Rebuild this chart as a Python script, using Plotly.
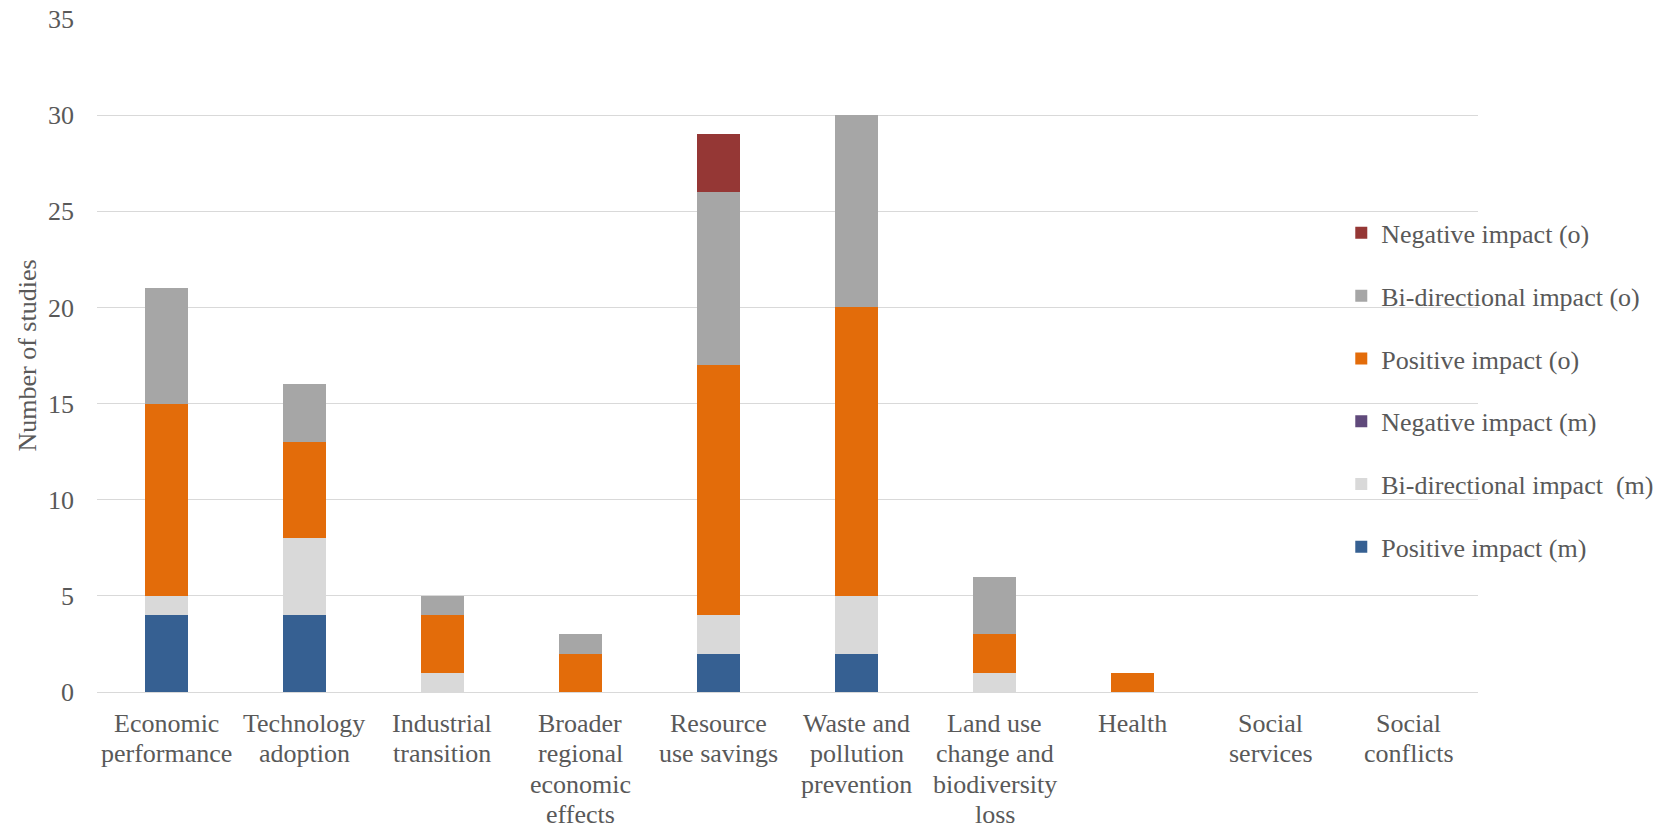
import plotly.graph_objects as go

# Impact categories (line breaks as they appear under the axis)
categories = [
    "Economic\nperformance",
    "Technology\nadoption",
    "Industrial\ntransition",
    "Broader\nregional\neconomic\neffects",
    "Resource\nuse savings",
    "Waste and\npollution\nprevention",
    "Land use\nchange and\nbiodiversity\nloss",
    "Health",
    "Social\nservices",
    "Social\nconflicts",
]

# Number of studies per impact type, (m) and (o)
positive_m = [4, 4, 0, 0, 2, 2, 0, 0, 0, 0]
bidirectional_m = [1, 4, 1, 0, 2, 3, 1, 0, 0, 0]
negative_m = [0, 0, 0, 0, 0, 0, 0, 0, 0, 0]
positive_o = [10, 5, 3, 2, 13, 15, 2, 1, 0, 0]
bidirectional_o = [6, 3, 1, 1, 9, 10, 3, 0, 0, 0]
negative_o = [0, 0, 0, 0, 3, 0, 0, 0, 0, 0]

y_ticks = [0, 5, 10, 15, 20, 25, 30, 35]

series = [
    ("Positive impact (m)", positive_m, "#366092"),
    ("Bi-directional impact  (m)", bidirectional_m, "#D9D9D9"),
    ("Negative impact (m)", negative_m, "#604A7B"),
    ("Positive impact (o)", positive_o, "#E36C0A"),
    ("Bi-directional impact (o)", bidirectional_o, "#A6A6A6"),
    ("Negative impact (o)", negative_o, "#953735"),
]

FONT = "Liberation Serif"
TEXT = "#595959"
W, H = 1669, 830
L, R, T, B = 97, 191, 19, 138

x_idx = list(range(len(categories)))

fig = go.Figure()
n = len(series)
for i, (name, vals, color) in enumerate(series):
    fig.add_trace(go.Bar(
        x=x_idx, y=vals, name=name,
        marker=dict(color=color, line=dict(width=0)),
        legendgroup=f"g{i}", legendrank=n - i,
    ))

# Category labels, one text line per annotation
line_step = 30.3
for xi, label in zip(x_idx, categories):
    for j, line in enumerate(label.split("\n")):
        fig.add_annotation(
            x=xi, xref="x", y=0, yref="paper",
            yanchor="top", xanchor="center",
            yshift=-(15 + j * line_step),
            text=line, showarrow=False,
            font=dict(family=FONT, size=26, color=TEXT),
        )

# Y axis title
plot_w = W - L - R
fig.add_annotation(
    x=-(L - 27) / plot_w, xref="paper", y=0.5, yref="paper",
    xanchor="center", yanchor="middle", textangle=-90,
    text="Number of studies", showarrow=False,
    font=dict(family=FONT, size=26, color=TEXT),
)

fig.update_layout(
    width=W, height=H,
    margin=dict(l=L, r=R, t=T, b=B, autoexpand=False),
    paper_bgcolor="white", plot_bgcolor="white",
    barmode="stack", bargap=0.688,
    font=dict(family=FONT, size=26, color=TEXT),
    showlegend=True,
    legend=dict(
        x=0.901, xanchor="left", y=0.717, yanchor="top",
        traceorder="grouped", tracegroupgap=26,
        font=dict(family=FONT, size=26, color=TEXT),
        bgcolor="rgba(0,0,0,0)", itemwidth=30,
    ),
    xaxis=dict(
        range=[-0.5, len(categories) - 0.5],
        showticklabels=False, showgrid=False, zeroline=False,
        showline=False, ticks="",
    ),
    yaxis=dict(
        range=[0, 35], tickvals=y_ticks,
        showgrid=True, gridcolor="#D9D9D9", gridwidth=1.3,
        zeroline=True, zerolinecolor="#D9D9D9", zerolinewidth=1.3,
        showline=False, ticks="", ticklabelstandoff=22,
        tickfont=dict(family=FONT, size=26, color=TEXT),
    ),
)

fig.write_html("out.html")
